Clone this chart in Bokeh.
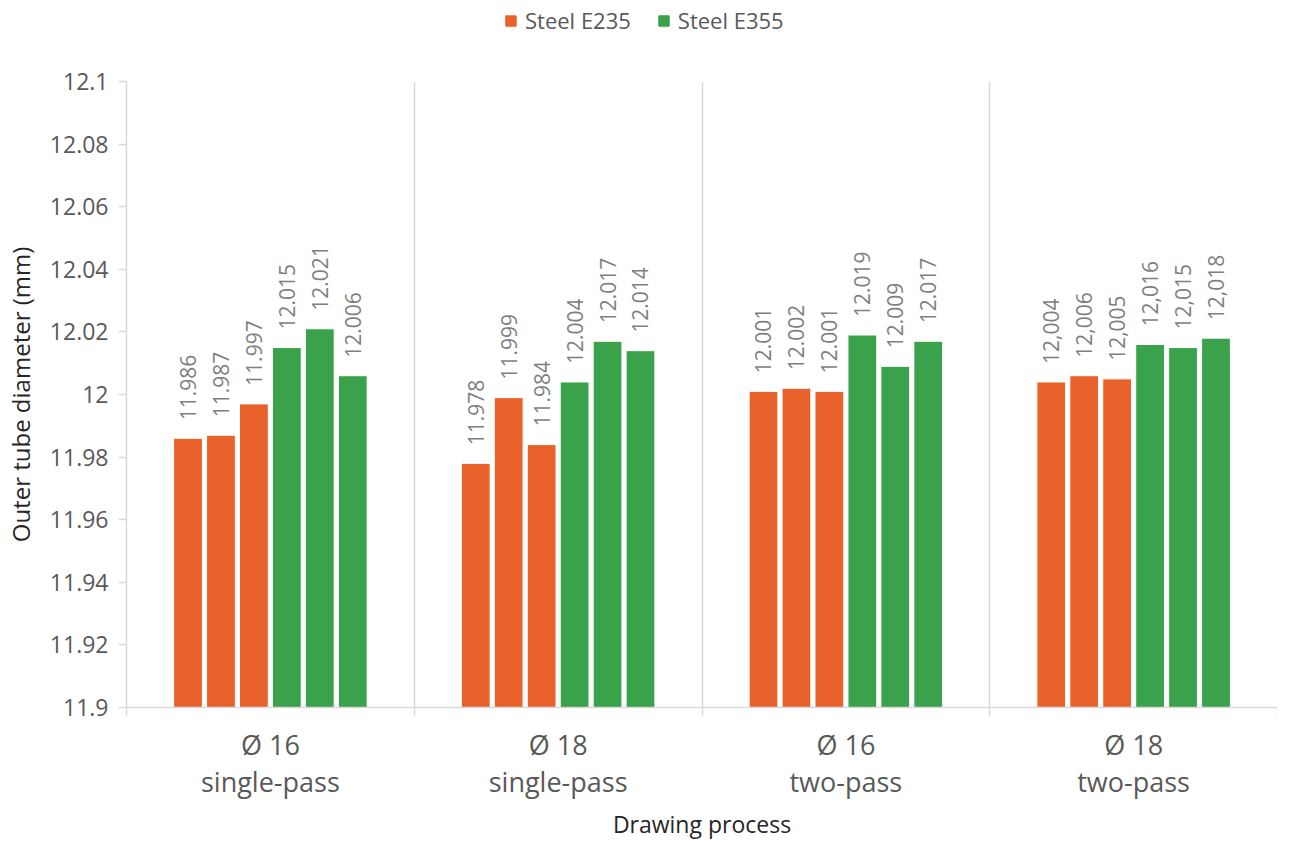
import math
from bokeh.plotting import figure
from bokeh.layouts import column
from bokeh.models import (ColumnDataSource, FixedTicker, LabelSet, Legend, LegendItem,
                          Grid, PrintfTickFormatter, Range1d)
from bokeh.core.properties import value
from bokeh.embed import file_html
from bokeh.resources import INLINE

# ---- data ----
groups = ["Ø 16\nsingle-pass", "Ø 18\nsingle-pass", "Ø 16\ntwo-pass", "Ø 18\ntwo-pass"]
series_names = ["Steel E235", "Steel E355"]
e235 = [[11.986, 11.987, 11.997], [11.978, 11.999, 11.984],
        [12.001, 12.002, 12.001], [12.004, 12.006, 12.005]]
e355 = [[12.015, 12.021, 12.006], [12.004, 12.017, 12.014],
        [12.019, 12.009, 12.017], [12.016, 12.015, 12.018]]
e235_labels = [["11.986", "11.987", "11.997"], ["11.978", "11.999", "11.984"],
               ["12.001", "12.002", "12.001"], ["12,004", "12,006", "12,005"]]
e355_labels = [["12.015", "12.021", "12.006"], ["12.004", "12.017", "12.014"],
               ["12.019", "12.009", "12.017"], ["12,016", "12,015", "12,018"]]
y_ticks = [11.9, 11.92, 11.94, 11.96, 11.98, 12.0, 12.02, 12.04, 12.06, 12.08, 12.1]

ORANGE = "#E9622B"
GREEN = "#39A24A"
FONT = "Open Sans"
pitch = 0.1145
bw = 0.1
base = 11.9
W = 1277
LEG_H = 40
MAIN_H = 804

def build(vals, labs, first):
    xs, tops, texts = [], [], []
    for g in range(len(groups)):
        for j in range(3):
            xs.append(g + 0.5 + (first + j - 2.5) * pitch)
            tops.append(vals[g][j])
            texts.append(labs[g][j])
    return ColumnDataSource(dict(x=xs, top=tops, text=texts))

src_a = build(e235, e235_labels, 0)
src_b = build(e355, e355_labels, 3)

p = figure(width=W, height=MAIN_H, output_backend="svg", toolbar_location=None,
           x_range=Range1d(0, 4), y_range=Range1d(11.9, 12.1),
           min_border_left=119, min_border_right=0, min_border_top=41, min_border_bottom=137)
p.outline_line_color = None
p.xgrid.visible = False
p.ygrid.visible = False

ra = p.vbar(x="x", top="top", bottom=base, width=bw, source=src_a,
            fill_color=ORANGE, line_color="white", line_width=1)
rb = p.vbar(x="x", top="top", bottom=base, width=bw, source=src_b,
            fill_color=GREEN, line_color="white", line_width=1)

for src in (src_a, src_b):
    lbl = LabelSet(x="x", y="top", text="text", source=src, angle=math.pi / 2,
                   text_align="left", text_baseline="middle", x_offset=0, y_offset=18,
                   text_font=value(FONT), text_font_size="21px", text_color="#7f7f7f")
    p.add_layout(lbl)

# group separators
p.add_layout(Grid(dimension=0, ticker=FixedTicker(ticks=[1, 2, 3, 4]),
                  grid_line_color="#d9d9d9", grid_line_width=1.5))

# x axis
xa = p.xaxis[0]
xa.ticker = FixedTicker(ticks=[0.5, 1.5, 2.5, 3.5], minor_ticks=[0, 1, 2, 3, 4])
xa.major_label_overrides = {0.5: groups[0], 1.5: groups[1], 2.5: groups[2], 3.5: groups[3]}
xa.major_tick_line_color = None
xa.major_tick_in = 0
xa.major_tick_out = 0
xa.minor_tick_in = 0
xa.minor_tick_out = 9
xa.minor_tick_line_color = "#d9d9d9"
xa.minor_tick_line_width = 1.5
xa.axis_line_color = "#d9d9d9"
xa.axis_line_width = 1.5
xa.major_label_text_font = FONT
xa.major_label_text_font_size = "27px"
xa.major_label_text_line_height = 1.02
xa.major_label_text_color = "#595959"
xa.major_label_standoff = 9
xa.axis_label = "Drawing process"
xa.axis_label_text_font = FONT
xa.axis_label_text_font_size = "23px"
xa.axis_label_text_font_style = "normal"
xa.axis_label_text_color = "#262626"
xa.axis_label_standoff = 5

# y axis
ya = p.yaxis[0]
ya.ticker = FixedTicker(ticks=y_ticks, minor_ticks=[])
ya.formatter = PrintfTickFormatter(format="%g")
ya.major_tick_in = 0
ya.major_tick_out = 8
ya.major_tick_line_color = "#d9d9d9"
ya.major_tick_line_width = 1.5
ya.axis_line_color = "#d9d9d9"
ya.axis_line_width = 1.5
ya.major_label_text_font = FONT
ya.major_label_text_font_size = "23px"
ya.major_label_text_color = "#595959"
ya.major_label_standoff = 10
ya.axis_label = "Outer tube diameter (mm)"
ya.axis_label_text_font = FONT
ya.axis_label_text_font_size = "24px"
ya.axis_label_text_font_style = "normal"
ya.axis_label_text_color = "#262626"
ya.axis_label_standoff = 10

# legend strip above the chart (frame aligned with the chart's frame)
lp = figure(width=W, height=LEG_H, output_backend="svg", toolbar_location=None,
            x_range=Range1d(0, 1), y_range=Range1d(0, 1),
            x_axis_location=None, y_axis_location=None,
            min_border=0, min_border_left=119, min_border_right=0,
            min_border_top=0, min_border_bottom=0)
lp.outline_line_color = None
lp.xgrid.visible = False
lp.ygrid.visible = False
dummy = dict(x=[-5.0], top=[-5.0])
la = lp.vbar(x="x", top="top", bottom=-6, width=0.1, source=ColumnDataSource(dummy),
             fill_color=ORANGE, line_color=ORANGE, line_width=1)
lb = lp.vbar(x="x", top="top", bottom=-6, width=0.1, source=ColumnDataSource(dummy),
             fill_color=GREEN, line_color=GREEN, line_width=1)
legend = Legend(items=[LegendItem(label=series_names[0], renderers=[la]),
                       LegendItem(label=series_names[1], renderers=[lb])],
                orientation="horizontal", location=(378, 5),
                glyph_width=13, glyph_height=13, label_text_font=FONT,
                label_text_font_size="22px", label_text_color="#595959",
                border_line_color=None, background_fill_alpha=0,
                spacing=26, label_standoff=8, padding=0, margin=0)
lp.add_layout(legend)

layout = column(lp, p, spacing=0)
open("out.html", "w").write(file_html(layout, INLINE))
